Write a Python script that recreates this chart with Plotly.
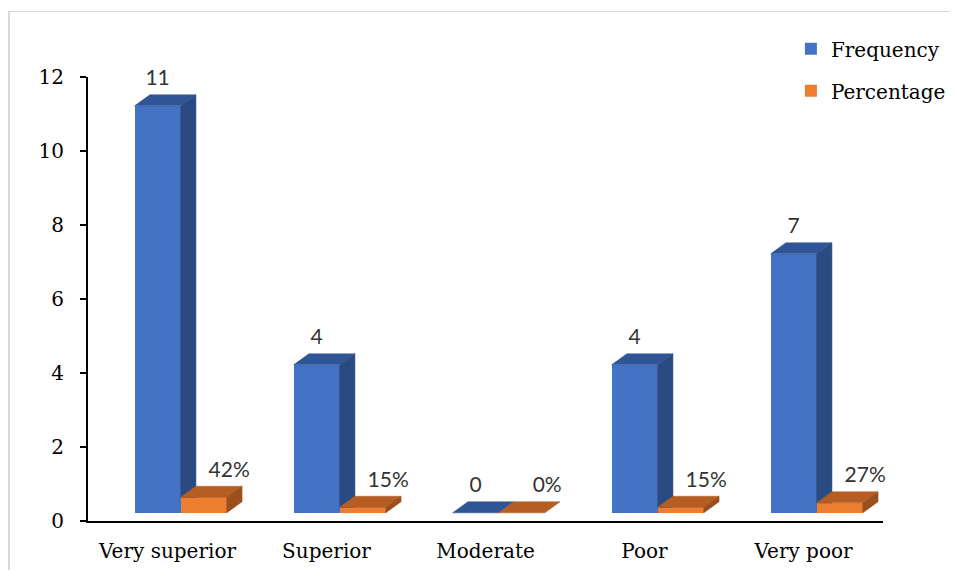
import plotly.graph_objects as go

# ---- data ----
categories = ["Very superior", "Superior", "Moderate", "Poor", "Very poor"]
frequency = [11, 4, 0, 4, 7]
percentage = [42, 15, 0, 15, 27]          # percent values
pct_plot = [p / 100 for p in percentage]  # plotted as fractions (as in source)
freq_labels = [str(v) for v in frequency]
pct_labels = [f"{p}%" for p in percentage]
y_ticks = [0, 2, 4, 6, 8, 10, 12]

# ---- style / pseudo-3D geometry (in axis units) ----
FLOOR = 0.22      # front face base (3D floor offset)
W = 0.29          # bar width (category units)
OFF_F = -0.207    # frequency bar offset from category centre
OFF_P = OFF_F + W # percentage bar offset
DX = 0.096        # depth, x
DY = 0.30         # depth, y
LBL = 0.40        # label gap above back edge

BLUE, BLUE_TOP, BLUE_SIDE = "#4472C4", "#2F5597", "#2A4A82"
ORG, ORG_TOP, ORG_SIDE = "#ED7D31", "#B65D24", "#9B4F1D"

SERIF = "DejaVu Serif"
SANS = "Lato"

xs = list(range(len(categories)))
fig = go.Figure()

# front faces (bars)
fig.add_trace(go.Bar(x=xs, y=frequency, base=FLOOR, width=W, offset=OFF_F,
                     marker=dict(color=BLUE, line=dict(width=0)),
                     name="Frequency", legendgroup="f", hoverinfo="skip"))
fig.add_trace(go.Bar(x=xs, y=pct_plot, base=FLOOR, width=W, offset=OFF_P,
                     marker=dict(color=ORG, line=dict(width=0)),
                     name="Percentage", legendgroup="p", hoverinfo="skip"))


def poly(px, py, color):
    fig.add_trace(go.Scatter(x=px + [px[0]], y=py + [py[0]], mode="lines",
                             fill="toself", fillcolor=color,
                             line=dict(color=color, width=0.5),
                             hoverinfo="skip", showlegend=False))


for i in xs:
    # frequency bar
    x0 = i + OFF_F
    x1 = x0 + W
    y0 = FLOOR
    y1 = FLOOR + frequency[i]
    yo1 = FLOOR + pct_plot[i]
    poly([x0, x1, x1 + DX, x0 + DX], [y1, y1, y1 + DY, y1 + DY], BLUE_TOP)
    if frequency[i] > 0:
        yb = max(y0, yo1)
        poly([x1, x1 + DX, x1 + DX, x1], [yb, yb, y1 + DY, y1], BLUE_SIDE)
    # percentage bar
    p0 = i + OFF_P
    p1 = p0 + W
    poly([p0, p1, p1 + DX, p0 + DX], [yo1, yo1, yo1 + DY, yo1 + DY], ORG_TOP)
    if pct_plot[i] > 0:
        poly([p1, p1 + DX, p1 + DX, p1], [y0, y0 + DY, yo1 + DY, yo1], ORG_SIDE)

# data labels
fig.add_trace(go.Scatter(
    x=[i + OFF_F + W / 2 for i in xs],
    y=[FLOOR + v + DY + LBL for v in frequency],
    text=freq_labels, mode="text", textposition="middle center",
    textfont=dict(family=SANS, size=21, color="#333333"),
    hoverinfo="skip", showlegend=False, cliponaxis=False))
fig.add_trace(go.Scatter(
    x=[i + OFF_P + W / 2 + 0.16 for i in xs],
    y=[FLOOR + v + DY + LBL for v in pct_plot],
    text=pct_labels, mode="text", textposition="middle center",
    textfont=dict(family=SANS, size=21, color="#333333"),
    hoverinfo="skip", showlegend=False, cliponaxis=False))

# chart border (light grey, left and top visible)
fig.add_shape(type="line", xref="paper", yref="paper",
              x0=-0.0995, x1=-0.0995, y0=1.1475, y1=-0.2,
              line=dict(color="#D6D6D6", width=2))
fig.add_shape(type="line", xref="paper", yref="paper",
              x0=-0.0995, x1=1.2, y0=1.1475, y1=1.1475,
              line=dict(color="#D6D6D6", width=1))

fig.update_layout(
    width=941, height=562,
    margin=dict(l=80, r=66, t=69, b=49, autoexpand=False),
    paper_bgcolor="white", plot_bgcolor="white",
    barmode="overlay", bargap=0,
    showlegend=True,
    legend=dict(xref="container", yref="container",
                x=0.832, y=0.962, xanchor="left", yanchor="top",
                font=dict(family=SERIF, size=20, color="#000000"),
                tracegroupgap=13, traceorder="grouped",
                bgcolor="rgba(0,0,0,0)"),
    xaxis=dict(range=[-0.5, 4.5], tickvals=xs, ticktext=categories,
               showgrid=False, zeroline=False, showline=True,
               linecolor="#000000", linewidth=2, ticks="",
               ticklabelstandoff=11, automargin=False,
               tickfont=dict(family=SERIF, size=20, color="#000000")),
    yaxis=dict(range=[0, 12], tickvals=y_ticks,
               showgrid=False, zeroline=False, showline=True,
               linecolor="#000000", linewidth=2, ticks="outside",
               ticklen=6, tickwidth=1.5, tickcolor="#000000",
               ticklabelstandoff=12, automargin=False,
               tickfont=dict(family=SERIF, size=20, color="#000000")),
)

fig.write_html("out.html")
